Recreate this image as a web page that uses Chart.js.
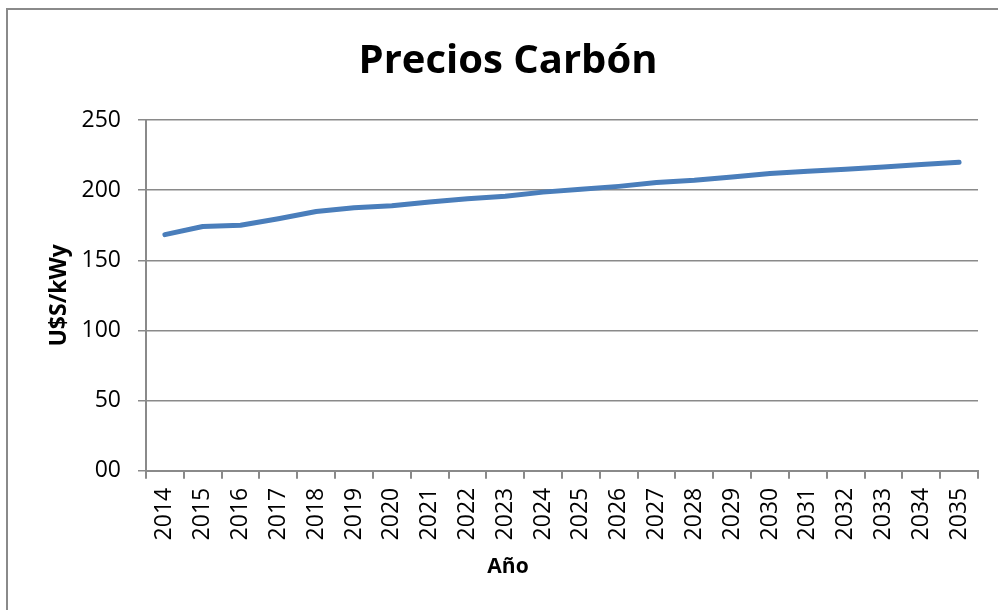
<!DOCTYPE html>
<html>
<head>
<meta charset="utf-8">
<script src="https://cdn.jsdelivr.net/npm/chart.js@4"></script>
<style>
    body { margin: 0; background: #fff; overflow: hidden; }
    #frame {
        position: absolute; left: 6px; top: 8px;
        width: 1100px; height: 700px;
        border-left: 2px solid #8a8a8a; border-top: 2px solid #8a8a8a;
    }
    #wrap { position: absolute; left: 0; top: 0; width: 998px; height: 610px; }
</style>
</head>
<body>
<div id="frame"></div>
<div id="wrap"><canvas id="carbonChart"></canvas></div>
<script>
const years = ['2014', '2015', '2016', '2017', '2018', '2019', '2020', '2021', '2022', '2023', '2024',
    '2025', '2026', '2027', '2028', '2029', '2030', '2031', '2032', '2033', '2034', '2035'];
const precios = [168.3, 174.1, 175.0, 179.6, 184.8, 187.5, 188.9, 191.5, 193.9, 195.6, 198.6,
    200.6, 202.7, 205.4, 207.0, 209.4, 211.8, 213.5, 214.9, 216.5, 218.3, 219.9];
const yTicks = [0, 50, 100, 150, 200, 250];

const gris = '#8a8a8a';
const fuente = "'Open Sans', sans-serif";

document.addEventListener('DOMContentLoaded', () => {
    renderCarbonChart();
});

function renderCarbonChart() {
    const ctx = document.getElementById('carbonChart').getContext('2d');

    new Chart(ctx, {
        type: 'line',
        data: {
            labels: years,
            datasets: [{
                label: 'Precios Carbón',
                data: precios,
                borderColor: '#4a7ebb',
                borderWidth: 5,
                borderCapStyle: 'round',
                borderJoinStyle: 'round',
                pointRadius: 0,
                tension: 0
            }]
        },
        options: {
            responsive: true,
            maintainAspectRatio: false,
            animation: false,
            layout: { padding: { left: 38, right: 20, top: 0, bottom: 0 } },
            plugins: {
                legend: { display: false },
                tooltip: { enabled: false },
                title: {
                    display: true,
                    text: 'Precios Carbón',
                    color: '#000',
                    font: { family: fuente, size: 40, weight: 'bold' },
                    padding: { top: 38, bottom: 34 }
                },
                subtitle: {
                    display: true,
                    position: 'bottom',
                    text: 'Año',
                    color: '#000',
                    font: { family: fuente, size: 21, weight: 'bold' },
                    padding: { top: 0, bottom: 30 }
                }
            },
            scales: {
                x: {
                    offset: true,
                    afterFit: (scale) => { scale.height = 84; },
                    grid: {
                        offset: true,
                        drawOnChartArea: false,
                        color: gris,
                        lineWidth: 2,
                        tickLength: 8
                    },
                    border: { color: gris, width: 2 },
                    ticks: {
                        color: '#000',
                        font: { family: fuente, size: 23 },
                        minRotation: 90,
                        maxRotation: 90,
                        autoSkip: false,
                        padding: 9
                    }
                },
                y: {
                    min: 0,
                    max: 250,
                    afterFit: (scale) => { scale.width = 108; },
                    afterBuildTicks: (scale) => {
                        scale.ticks = yTicks.map(v => ({ value: v }));
                    },
                    grid: {
                        color: gris,
                        lineWidth: 1.5,
                        tickLength: 8
                    },
                    border: { color: gris, width: 2 },
                    ticks: {
                        color: '#000',
                        font: { family: fuente, size: 23 },
                        padding: 17,
                        callback: (v) => v === 0 ? '00' : v
                    },
                    title: {
                        display: true,
                        text: 'U$S/kWy',
                        color: '#000',
                        font: { family: fuente, size: 23, weight: 'bold' },
                        padding: { top: 8, bottom: 0 }
                    }
                }
            }
        }
    });
}
</script>
</body>
</html>
